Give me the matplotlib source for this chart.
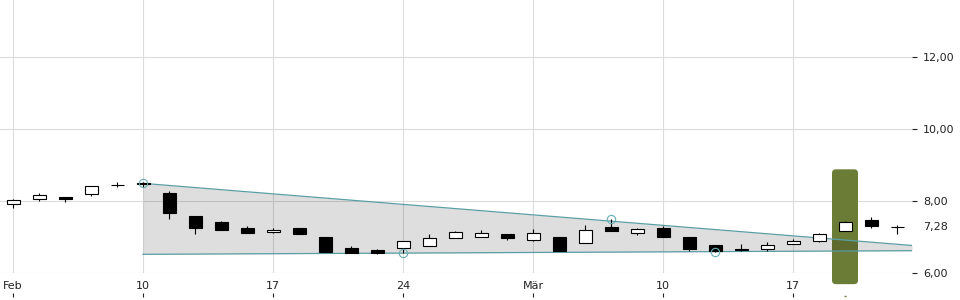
import matplotlib.pyplot as plt
import matplotlib.transforms as mtransforms
from matplotlib.patches import FancyBboxPatch
import numpy as np

# daily candles, 03.02. - 21.03.
opens  = [7.93, 8.05, 8.11, 8.19, 8.44, 8.49, 8.22, 7.58, 7.42, 7.25,
          7.13, 7.25, 7.00, 6.69, 6.64, 6.70, 6.76, 6.98, 7.01, 7.08,
          6.93, 7.00, 6.82, 7.27, 7.10, 7.24, 6.99, 6.77, 6.67, 6.66,
          6.80, 6.90, 7.16, 7.47, 7.28]
highs  = [8.05, 8.22, 8.12, 8.41, 8.52, 8.52, 8.28, 7.58, 7.45, 7.31,
          7.24, 7.25, 7.00, 6.75, 6.68, 6.89, 7.08, 7.18, 7.19, 7.08,
          7.22, 7.00, 7.33, 7.49, 7.25, 7.31, 6.99, 6.77, 6.80, 6.85,
          6.94, 7.11, 7.45, 7.55, 7.32]
lows   = [7.81, 8.01, 7.98, 8.13, 8.40, 8.38, 7.51, 7.09, 7.20, 7.12,
          7.10, 7.07, 6.59, 6.56, 6.53, 6.55, 6.76, 6.98, 7.01, 6.92,
          6.89, 6.61, 6.82, 7.18, 7.05, 6.99, 6.62, 6.57, 6.61, 6.62,
          6.80, 6.86, 7.16, 7.26, 7.07]
closes = [8.02, 8.16, 8.06, 8.41, 8.44, 8.48, 7.68, 7.26, 7.20, 7.12,
          7.19, 7.07, 6.59, 6.56, 6.56, 6.89, 6.97, 7.14, 7.11, 6.98,
          7.11, 6.61, 7.19, 7.18, 7.21, 6.99, 6.66, 6.62, 6.63, 6.77,
          6.89, 7.07, 7.41, 7.30, 7.28]

tick_pos = [0, 5, 10, 15, 20, 25, 30]
tick_labels = ['Feb', '10', '17', '24', 'Mär', '10', '17']
y_ticks = [6, 8, 10, 12]
last_price = 7.28

# trend channel anchors (index, value)
upper_anchor_x = [5, 23]
upper_anchor_y = [8.49, 7.44]
lower_anchor_x = [15, 27]
lower_anchor_y = [6.553, 6.594]
pivot_idx = [5, 15, 23, 27]
pivot_val = [8.50, 6.55, 7.51, 6.57]

highlight_idx = 32

teal = '#5a9ea6'
olive = '#6b7c37'

x = np.arange(len(opens))
o = np.array(opens); c = np.array(closes)

fig = plt.figure(figsize=(9.6, 3.0), dpi=100)
ax = fig.add_axes([0, 0.09, 0.95, 0.91])
x_max = (912 - 13) / 26
ax.set_xlim(-0.5, x_max)
ax.set_ylim(6, 6 + 273 / 36)

# grid
ax.set_xticks(tick_pos)
ax.set_xticklabels(tick_labels)
ax.set_yticks(y_ticks)
ax.set_yticklabels([f'{v:.2f}'.replace('.', ',') for v in y_ticks])
ax.grid(True, color='#dcdcdc', linewidth=0.8, zorder=0)
ax.set_axisbelow(True)
for s in ax.spines.values():
    s.set_visible(False)
ax.yaxis.tick_right()
ax.tick_params(axis='y', length=3.6, width=0.8, pad=4.3, labelsize=8, colors='#222222')
ax.tick_params(axis='x', length=0, pad=6, labelsize=8, colors='#222222')

# tick marks under the labels
sec = ax.secondary_xaxis(-20 / 273)
sec.set_xticks(tick_pos)
sec.set_xticklabels([])
sec.spines['bottom'].set_visible(False)
sec.tick_params(length=3, width=0.8, color='#222222')

# highlighted day
hl = FancyBboxPatch((highlight_idx - 0.5, 5.69), 1.0, 8.88 - 5.69,
                    boxstyle='round,pad=0,rounding_size=0.15', mutation_aspect=0.72,
                    facecolor=olive, edgecolor='none', zorder=1, clip_on=False)
ax.add_patch(hl)
blend = mtransforms.blended_transform_factory(ax.transData, ax.transAxes)
ax.plot([highlight_idx], [-23 / 273], marker='_', color=olive, markersize=2,
        transform=blend, clip_on=False)

# channel
cx = np.array([upper_anchor_x[0], x_max])
up_slope = (upper_anchor_y[1] - upper_anchor_y[0]) / (upper_anchor_x[1] - upper_anchor_x[0])
lo_slope = (lower_anchor_y[1] - lower_anchor_y[0]) / (lower_anchor_x[1] - lower_anchor_x[0])
up = upper_anchor_y[0] + up_slope * (cx - upper_anchor_x[0])
lo = lower_anchor_y[0] + lo_slope * (cx - lower_anchor_x[0])
ax.fill_between(cx, lo, up, color='black', alpha=0.13, linewidth=0, zorder=2)
ax.plot(cx, up, color=teal, linewidth=0.9, zorder=3)
ax.plot(cx, lo, color=teal, linewidth=0.9, zorder=3)

# candles
ax.vlines(x, lows, highs, color='black', linewidth=0.8, zorder=4)
bottoms = np.minimum(o, c)
heights = np.abs(c - o)
face = ['white' if cl > op else 'black' for op, cl in zip(opens, closes)]
ax.bar(x, heights, bottom=bottoms, width=0.5, color=face, edgecolor='black',
       linewidth=0.8, zorder=5)

# pivot points
ax.plot(pivot_idx, pivot_val, 'o', markersize=6, markerfacecolor='none',
        markeredgecolor='#6aaeb5', markeredgewidth=0.8, zorder=6)

# last price label
ax.annotate(f'{last_price:.2f}'.replace('.', ','), xy=(1, last_price),
            xycoords=mtransforms.blended_transform_factory(ax.transAxes, ax.transData),
            xytext=(8, 0), textcoords='offset points', va='center', ha='left',
            fontsize=8, color='#222222')

fig.savefig('out.png', dpi=100)
